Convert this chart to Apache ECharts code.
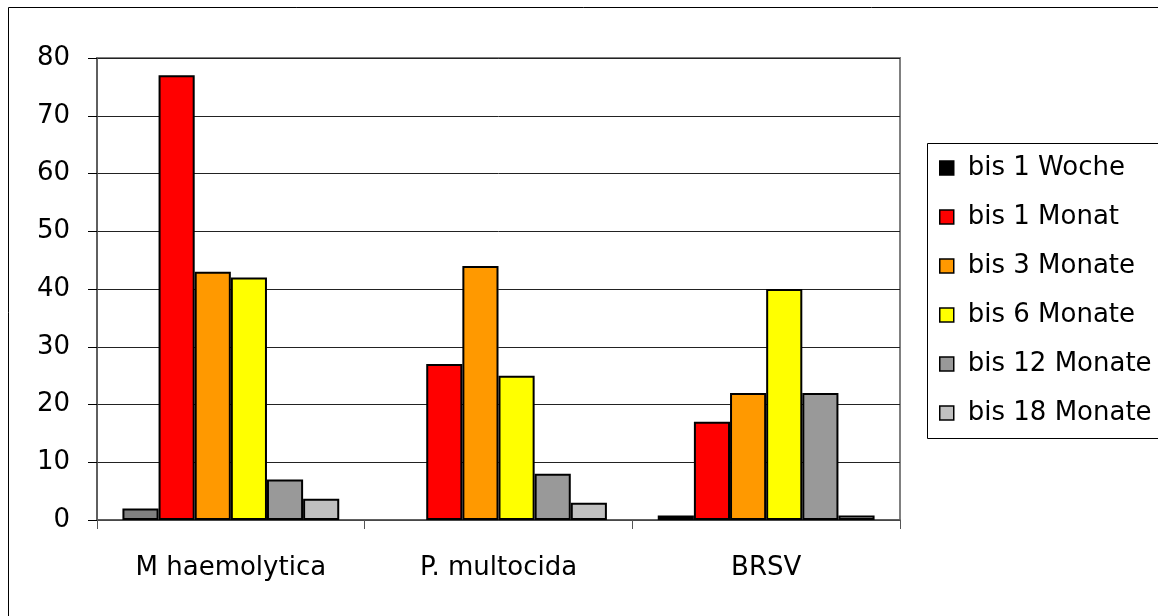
<!DOCTYPE html>
<html>
<head>
<meta charset="utf-8">
<script src="https://cdn.jsdelivr.net/npm/echarts@6/dist/echarts.min.js"></script>
<style>
html,body{margin:0;padding:0;background:#fff;}
#chart{width:1158px;height:616px;}
</style>
</head>
<body>
<div id="chart"></div>
<script>
var categories = ['M haemolytica', 'P. multocida', 'BRSV'];
var seriesNames = ['bis 1 Woche', 'bis 1 Monat', 'bis 3 Monate', 'bis 6 Monate', 'bis 12 Monate', 'bis 18 Monate'];
var bis1Woche = [2, 0, 0.8];
var bis1Monat = [77, 27, 17];
var bis3Monate = [43, 44, 22];
var bis6Monate = [42, 25, 40];
var bis12Monate = [7, 8, 22];
var bis18Monate = [3.7, 3, 0.8];
var yTicks = [0, 10, 20, 30, 40, 50, 60, 70, 80];

var values = [bis1Woche, bis1Monat, bis3Monate, bis6Monate, bis12Monate, bis18Monate];
var colors = ['#000000', '#FF0000', '#FF9900', '#FFFF00', '#999999', '#C0C0C0'];
var FONT = 'DejaVu Sans, Liberation Sans, Arial, sans-serif';
var FS = 26;

var series = values.map(function (vals, i) {
  return {
    name: seriesNames[i],
    type: 'bar',
    barGap: '0%',
    barCategoryGap: '19%',
    itemStyle: { color: colors[i], borderColor: '#000', borderWidth: 2 },
    emphasis: { disabled: true },
    data: vals.map(function (v, j) {
      if (v === 0) {
        return { value: v, itemStyle: { borderWidth: 0 } };
      }
      if (i === 0 && j === 0) {
        return { value: v, itemStyle: { color: '#808080' } };
      }
      return v;
    })
  };
});

var chart = echarts.init(document.getElementById('chart'), null, { renderer: 'canvas' });
chart.setOption({
  animation: false,
  backgroundColor: '#fff',
  color: colors,
  textStyle: { fontFamily: FONT },
  graphic: [
    { type: 'rect', shape: { x: 8.5, y: 7.5, width: 1300, height: 800 },
      style: { fill: 'none', stroke: '#000', lineWidth: 1 }, silent: true },
    { type: 'rect', shape: { x: 927.5, y: 143.5, width: 400, height: 295 },
      style: { fill: '#fff', stroke: '#000', lineWidth: 1 }, silent: true, z: 0 }
  ],
  grid: {
    left: 97, right: 258, top: 58, bottom: 96,
    show: true, borderColor: '#808080', borderWidth: 2, backgroundColor: 'transparent'
  },
  legend: {
    orient: 'vertical',
    left: 934,
    top: 150,
    z: 10,
    itemWidth: 14,
    itemHeight: 14,
    itemGap: 23,
    icon: 'rect',
    selectedMode: false,
    itemStyle: { borderColor: '#000', borderWidth: 1.5 },
    textStyle: { fontSize: FS, color: '#000', fontFamily: FONT, lineHeight: 26, padding: [0, 0, 0, 9] },
    data: seriesNames
  },
  xAxis: {
    type: 'category',
    data: categories,
    axisLine: { lineStyle: { color: '#555', width: 1.5 } },
    axisTick: { show: true, length: 9, inside: false, lineStyle: { color: '#555' } },
    axisLabel: { fontSize: FS, color: '#000', margin: 35, fontFamily: FONT },
    splitLine: { show: false }
  },
  yAxis: {
    type: 'value',
    min: yTicks[0],
    max: yTicks[yTicks.length - 1],
    interval: 10,
    axisLine: { show: true, lineStyle: { color: '#555', width: 1.5 } },
    axisTick: { show: true, length: 9, lineStyle: { color: '#000' } },
    axisLabel: { fontSize: FS, color: '#000', margin: 27, fontFamily: FONT },
    splitLine: { show: true, lineStyle: { color: '#222', width: 1 } }
  },
  series: series
});
</script>
</body>
</html>
